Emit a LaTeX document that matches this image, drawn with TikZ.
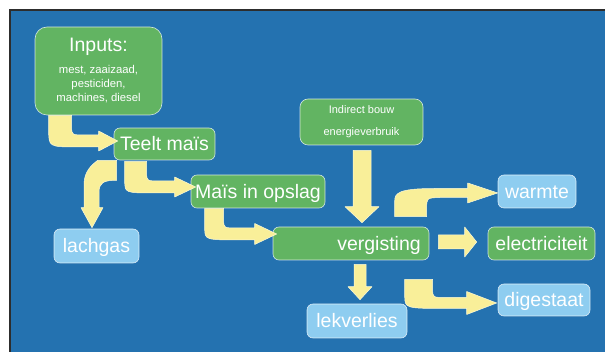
\documentclass[tikz,border=0pt]{standalone}
\usepackage{fontspec}
\setmainfont{Liberation Sans}
\usetikzlibrary{calc}
\definecolor{bgblue}{RGB}{36,114,176}
\definecolor{boxgreen}{RGB}{98,180,98}
\definecolor{boxblue}{RGB}{142,205,240}
\definecolor{arrowyel}{RGB}{249,239,153}
\definecolor{arrowedge}{RGB}{252,249,215}
\definecolor{frameline}{RGB}{45,45,45}
\newcommand\mainfs{\fontsize{19.5}{23}\selectfont}
\newcommand\smallfs{\fontsize{11.3}{14}\selectfont}
% elbow arrow: down from #1 (top centre), then right to tip #2
% #3 half width vertical, #4 half width horizontal, #5 head length, #6 head half height, #7/#8 outer corner x/y
\newcommand\elbowarrow[8]{%
  \path[blockarrow] ($(#1)+(-#3,0)$) -- ($(#1)+(#3,0)$)
    -- ($(#1|-#2)+(#3,-#4-8)$) .. controls ($(#1|-#2)+(#3,-#4)$) .. ($(#1|-#2)+(#3+14,-#4)$)
    -- ($(#2)+(-#5,-#4)$) -- ($(#2)+(-#5,-#6)$) -- (#2) -- ($(#2)+(-#5,#6)$) -- ($(#2)+(-#5,#4)$)
    -- ($(#1|-#2)+(-#3+#7,#4)$) .. controls ($(#1|-#2)+(-#3,#4)$) .. ($(#1|-#2)+(-#3,#4-#8)$)
    -- cycle;}
% straight down arrow
\newcommand\vblockarrow[5]{%
  \path[blockarrow] ($(#1)+(-#3,0)$) -- ($(#1)+(#3,0)$) -- ($(#2)+(#3,-#4)$) -- ($(#2)+(#5,-#4)$)
    -- (#2) -- ($(#2)+(-#5,-#4)$) -- ($(#2)+(-#3,-#4)$) -- cycle;}
% straight right arrow
\newcommand\hblockarrow[5]{%
  \path[blockarrow] ($(#1)+(0,-#3)$) -- ($(#2)+(-#4,-#3)$) -- ($(#2)+(-#4,-#5)$) -- (#2)
    -- ($(#2)+(-#4,#5)$) -- ($(#2)+(-#4,#3)$) -- ($(#1)+(0,#3)$) -- cycle;}
\tikzset{
  box/.style={rounded corners=6pt, draw=white, draw opacity=0.75, line width=0.6pt,
    text=white, font=\mainfs, inner sep=0pt, text height=14pt, text depth=0pt},
  gbox/.style={box, fill=boxgreen},
  bbox/.style={box, fill=boxblue},
  blockarrow/.style={fill=arrowyel, draw=arrowedge, line width=0.5pt, line join=round}
}
\begin{document}
\begin{tikzpicture}[x=1pt, y=-1pt]
\useasboundingbox (0,0) rectangle (605,352);
\fill[white] (0,0) rectangle (605,352);
\fill[bgblue] (10,10) rectangle (605,352);
\draw[frameline, line width=1.5pt] (605,10) -- (10,10) -- (10,352);

% nodes
\node[gbox, rounded corners=12pt, minimum width=127pt, minimum height=88pt, align=center,
      font=\smallfs, text height=, text depth=] (inputs) at (98.5,71)
      {{\mainfs Inputs:}\\[8pt]mest, zaaizaad,\\pesticiden,\\machines, diesel};
\node[gbox, minimum width=101pt, minimum height=32pt] (teelt) at (164.5,144) {Teelt maïs};
\node[gbox, minimum width=134pt, minimum height=33pt] (opslag) at (258,191.5) {Maïs in opslag};
\node[gbox, rounded corners=8pt, minimum width=123pt, minimum height=46pt, align=center,
      font=\fontsize{11}{22}\selectfont, text height=, text depth=] (indirect) at (361.5,122)
      {Indirect bouw\\energieverbruik};
\node[bbox, minimum width=85pt, minimum height=34pt] (lachgas) at (96.5,246) {lachgas};
\node[gbox, minimum width=156pt, minimum height=33pt] (verg) at (351,243.5) {\hspace*{56pt}vergisting};
\node[bbox, minimum width=78pt, minimum height=33pt] (warmte) at (537,191.5) {warmte};
\node[gbox, minimum width=107pt, minimum height=33pt] (elec) at (541.5,243.5) {electriciteit};
\node[bbox, minimum width=92pt, minimum height=32pt] (digestaat) at (544,300) {digestaat};
\node[bbox, minimum width=100pt, minimum height=34pt] (lek) at (357,321) {lekverlies};

% connector end points
\coordinate (a1s) at ($(inputs.south west)+(25.5,0)$);
\coordinate (a1t) at ($(teelt.west)+(4,-3)$);
\coordinate (a2s) at ($(teelt.south west)+(22,1)$);
\coordinate (a2t) at ($(opslag.west)+(5,-4.5)$);
\coordinate (a3s) at ($(opslag.south west)+(23.5,0)$);
\coordinate (a3t) at ($(verg.west)+(4,-9.5)$);
\coordinate (a4s) at ($(verg.south west)+(146,19)$);
\coordinate (a4t) at ($(digestaat.west)+(-1,3)$);
\coordinate (a5s) at ($(indirect.south)+(0.5,5)$);
\coordinate (a5t) at ($(a5s|-verg.north)+(0,-4)$);
\coordinate (a6s) at ($(verg.east)+(9,-1.5)$);
\coordinate (a6t) at ($(a6s-|elec.west)+(-11,0)$);
\coordinate (a7s) at ($(verg.south)+(9,4)$);
\coordinate (a7t) at ($(a7s|-lek.north)+(0,-4)$);
\coordinate (ws) at ($(verg.north west)+(138,-10)$);
\coordinate (wt) at ($(warmte.west)+(0,1.5)$);
\coordinate (ls) at ($(teelt.south west)+(-6.5,0)$);
\coordinate (lt) at ($(lachgas.north)+(-4.5,-1)$);

% connectors
\elbowarrow{a1s}{a1t}{11.5}{6}{19}{10}{30}{17}
\elbowarrow{a2s}{a2t}{11}{6}{21}{10}{30}{13}
\elbowarrow{a3s}{a3t}{9.5}{6}{22}{10.5}{38}{12}
\elbowarrow{a4s}{a4t}{14}{5.5}{30}{11.5}{45}{13}
\vblockarrow{a5s}{a5t}{9}{16}{17}
\hblockarrow{a6s}{a6t}{7}{12}{15}
\vblockarrow{a7s}{a7t}{6}{13}{12}

% vergisting -> warmte
\path[blockarrow] ($(ws)+(-16,0)$) -- ($(ws)+(16,0)$) -- ($(ws|-wt)+(16,15)$)
  .. controls ($(ws|-wt)+(16,5)$) .. ($(ws|-wt)+(29,4.5)$)
  -- ($(wt)+(-30,4.5)$) -- ($(wt)+(-30,10)$) -- (wt) -- ($(wt)+(-30,-10)$) -- ($(wt)+(-30,-4.5)$)
  -- ($(ws|-wt)+(24,-4.5)$) .. controls ($(ws|-wt)+(-12,-4.5)$) and ($(ws|-wt)+(-16,0)$) .. ($(ws|-wt)+(-16,8)$)
  -- cycle;

% teelt -> lachgas
\path[blockarrow] ($(ls)+(-9.5,0)$) -- ($(ls)+(9.5,0)$) -- ($(ls)+(9.5,20)$)
  .. controls ($(ls)+(-4,20)$) and ($(lt)+(7,-45)$) .. ($(lt)+(7,-35)$)
  -- ($(lt)+(7,-20)$) -- ($(lt)+(11,-20)$) -- (lt) -- ($(lt)+(-11,-20)$) -- ($(lt)+(-8,-20)$)
  -- ($(lt)+(-8,-43)$) .. controls ($(lt)+(-8,-56)$) and ($(ls)+(-16,5)$) .. ($(ls)+(-9.5,0)$)
  -- cycle;
\end{tikzpicture}
\end{document}
